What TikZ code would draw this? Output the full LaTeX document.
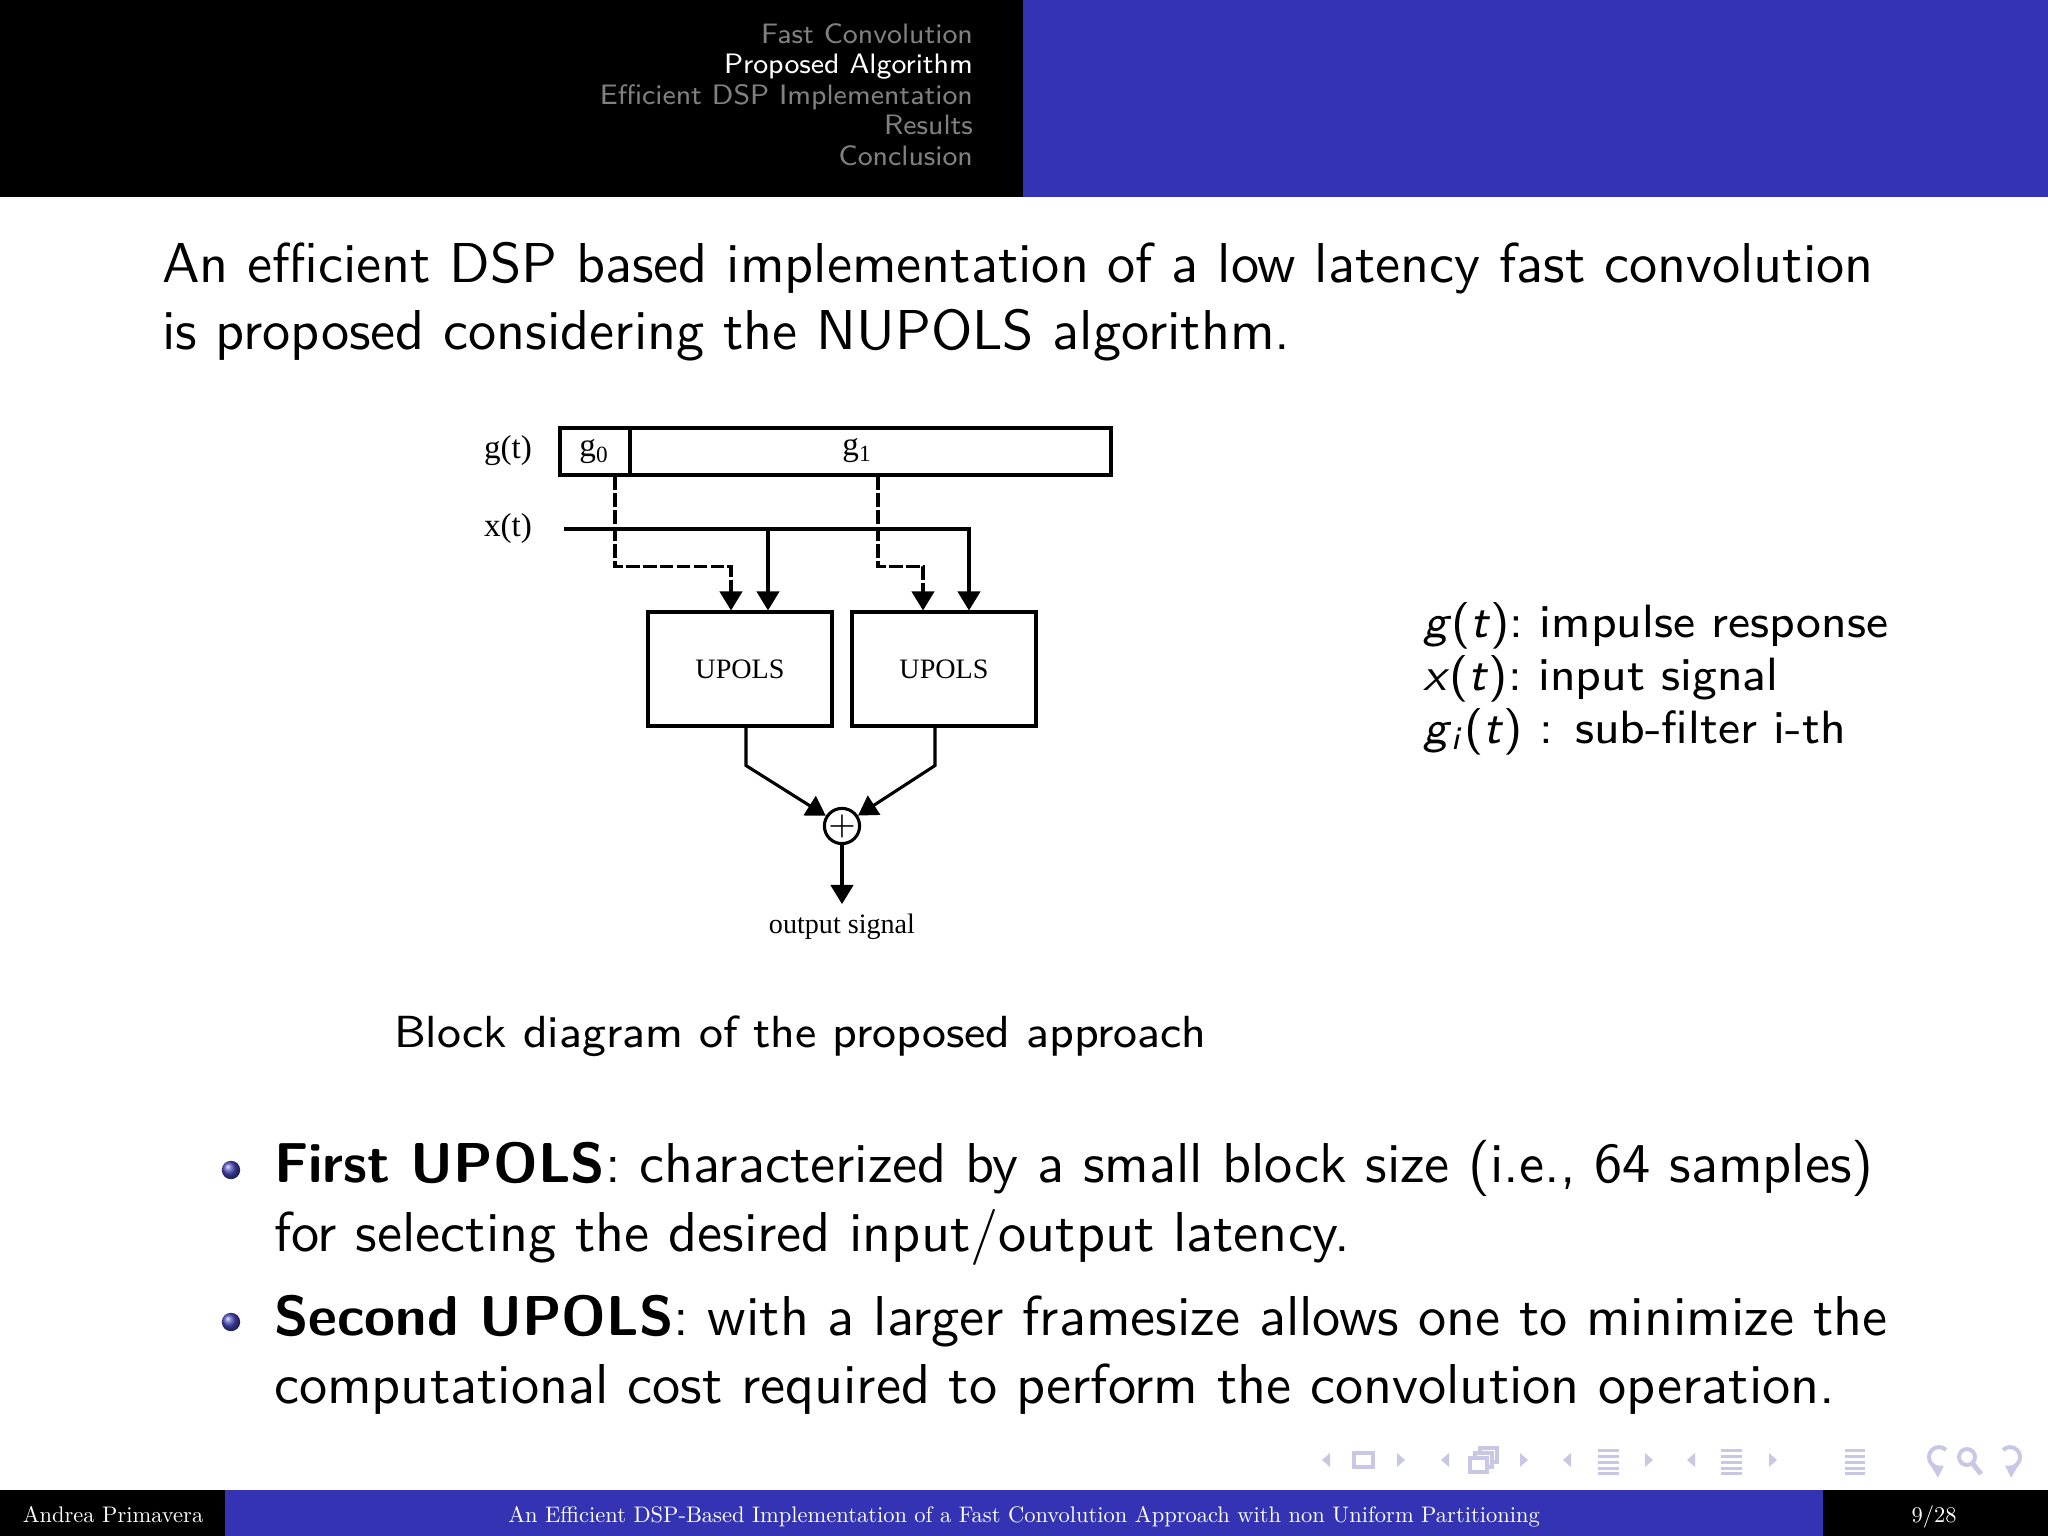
\documentclass[tikz,border=0pt]{standalone}
\usepackage{graphicx}
\usepackage{fontspec}
\newfontfamily\dfont{Liberation Serif}
\usetikzlibrary{arrows.meta}
\definecolor{bblue}{RGB}{51,51,179}
\definecolor{navc}{RGB}{200,200,230}
\definecolor{hgray}{RGB}{128,128,128}
\newcommand{\ftxt}[1]{\scalebox{0.4}{\rmfamily\fontsize{10}{12}\selectfont #1}}
\begin{document}
\begin{tikzpicture}[x=0.0625mm,y=-0.0625mm,
  hdr/.style={font=\sffamily\fontsize{5}{6}\selectfont, text=hgray, inner sep=0pt, anchor=base east},
  main/.style={font=\sffamily\fontsize{10}{12}\selectfont, inner sep=0pt, anchor=base west},
  legd/.style={font=\sffamily\fontsize{8.3}{10}\selectfont, inner sep=0pt, anchor=base west},
  capt/.style={font=\sffamily\fontsize{8}{10}\selectfont, inner sep=0pt, anchor=base west},
  foot/.style={text=white, inner sep=0pt, anchor=base},
  dlab/.style={font=\dfont\fontsize{5}{6}\selectfont, inner sep=0pt},
  dlabbig/.style={font=\dfont\fontsize{5.9}{7}\selectfont, inner sep=0pt},
  dline/.style={line width=0.55pt},
  arr/.style={dline, -{Triangle[width=4pt,length=3.4pt]}},
  dashline/.style={arr, dash pattern=on 2.4pt off 0.6pt},
  boxn/.style={draw, dline, dlab, minimum height=7.125mm, minimum width=11.5mm},
  gcell/.style={draw, dline, dlabbig, minimum height=2.94mm},
  bul/.style={circle, inner sep=0pt, minimum size=1.15mm, shading=ball, ball color=bblue!90!white},
  nav/.style={navc},
]
\useasboundingbox (0,0) rectangle (2048,1536);
\fill[white] (0,0) rectangle (2048,1536);
% header
\fill[black] (0,0) rectangle (1023,197);
\fill[bblue] (1023,0) rectangle (2048,197);
\node[hdr] (s1) at (974,44) {Fast Convolution};
\node[hdr, text=white] (s2) at (974,74) {Proposed Algorithm};
\node[hdr] (s3) at (974,104) {Efficient DSP Implementation};
\node[hdr] (s4) at (974,135) {Results};
\node[hdr] (s5) at (974,165) {Conclusion};
% intro text
\node[main] (t1) at (161,282) {An efficient DSP based implementation of a low latency fast convolution};
\node[main] (t2) at (161,350) {is proposed considering the NUPOLS algorithm.};
% diagram
\node[dlabbig] (gt) at (508,451) {g(t)};
\node[gcell, minimum width=4.375mm] (g0) at (595,451.5) {g\textsubscript{0}};
\node[gcell, minimum width=30.06mm] (g1) at (870.5,451.5) {};
\node[dlabbig] (g1l) at (858,451) {g\textsubscript{1}};
\node[dlabbig] (xt) at (508,529) {x(t)};
\node[boxn] (u1) at (740,669) {UPOLS};
\node[boxn] (u2) at (944,669) {UPOLS};
\node[draw, dline, circle, inner sep=0pt, minimum size=2.2mm] (sum) at (842,826) {};
\node[font=\fontsize{5.5}{6}\selectfont, inner sep=0pt] (plus) at (842,826) {$+$};
\node[dlab, inner sep=1.6pt] (outl) at (842,927) {output signal};
\coordinate (xs) at (564,529);
\coordinate (c615) at (615,0);
\coordinate (c731) at (731,0);
\coordinate (c878) at (878,0);
\coordinate (c923) at (923,0);
\coordinate (c768) at (768,0);
\coordinate (c969) at (969,0);
\coordinate (c746) at (746,0);
\coordinate (c935) at (935,0);
\draw[dashline] (g0.south -| c615) -- ++(0,90) -| (u1.north -| c731);
\draw[dashline] (g1.south -| c878) -- ++(0,90) -| (u2.north -| c923);
\draw[arr] (xs) -| (u2.north -| c969);
\draw[arr] (c768 |- xs) -- (u1.north -| c768);
\draw[arr] (u1.south -| c746) -- ++(0,38) -- (sum);
\draw[arr] (u2.south -| c935) -- ++(0,38) -- (sum);
\draw[arr] (sum) -- (outl);
% caption
\node[capt] (cap) at (393,1047) {Block diagram of the proposed approach};
% legend
\node[legd] (l1) at (1422,637) {\textit{g}(\textit{t}):\ impulse response};
\node[legd] (l2) at (1422,690) {\textit{x}(\textit{t}):\ input signal};
\node[legd] (l3) at (1422,743) {\textit{g}\textsubscript{\textit{i}}(\textit{t}) : sub-filter i-th};
% bullets
\node[bul] (b1) at (231,1170) {};
\node[main] (p1) at (273,1182) {\textbf{First UPOLS}: characterized by a small block size (i.e., 64 samples)};
\node[main] (p1b) at (273,1251) {for selecting the desired input/output latency.};
\node[bul] (b2) at (231,1322) {};
\node[main] (p2) at (273,1335) {\textbf{Second UPOLS}: with a larger framesize allows one to minimize the};
\node[main] (p2b) at (273,1403) {computational cost required to perform the convolution operation.};
% nav symbols
\begin{scope}[nav]
\fill (1330,1453) -- (1322,1460) -- (1330,1467) -- cycle;
\draw[line width=0.6pt] (1354,1453) rectangle (1373,1467);
\fill (1397,1453) -- (1405,1460) -- (1397,1467) -- cycle;
\fill (1449,1453) -- (1441,1460) -- (1449,1467) -- cycle;
\draw[line width=0.6pt,fill=white] (1480,1448) rectangle (1497,1462);
\draw[line width=0.6pt,fill=white] (1475,1453) rectangle (1492,1467);
\draw[line width=0.6pt,fill=white] (1470,1458) rectangle (1487,1472);
\fill (1520,1453) -- (1528,1460) -- (1520,1467) -- cycle;
\fill (1571,1453) -- (1563,1460) -- (1571,1467) -- cycle;
\foreach \yy in {1449,1455,1461,1467,1472} \fill (1598,\yy) rectangle (1619,\yy+3);
\fill (1645,1453) -- (1653,1460) -- (1645,1467) -- cycle;
\fill (1695,1453) -- (1687,1460) -- (1695,1467) -- cycle;
\foreach \yy in {1449,1455,1461,1467,1472} \fill (1721,\yy) rectangle (1742,\yy+3);
\fill (1769,1453) -- (1777,1460) -- (1769,1467) -- cycle;
\foreach \yy in {1449,1455,1461,1467,1472} \fill (1845,\yy) rectangle (1865,\yy+3);
\draw[line width=0.7pt, -{Triangle[width=2.5pt,length=2pt]}] (1946,1450) arc[start angle=-45, end angle=-300, radius=10];
\draw[line width=0.7pt] (1967,1457) circle [radius=8];
\draw[line width=0.9pt] (1973,1464) -- (1981,1474);
\draw[line width=0.7pt, -{Triangle[width=2.5pt,length=2pt]}] (2003,1450) arc[start angle=-135, end angle=120, radius=10];
\end{scope}
% footer
\fill[black] (0,1490) rectangle (225,1536);
\fill[bblue] (225,1490) rectangle (1823,1536);
\fill[black] (1823,1490) rectangle (2048,1536);
\node[foot] (fa) at (113,1522) {\ftxt{Andrea Primavera}};
\node[foot] (ft) at (1024,1522) {\ftxt{An Efficient DSP-Based Implementation of a Fast Convolution Approach with non Uniform Partitioning}};
\node[foot] (fp) at (1934,1522) {\ftxt{9/28}};
\end{tikzpicture}
\end{document}
